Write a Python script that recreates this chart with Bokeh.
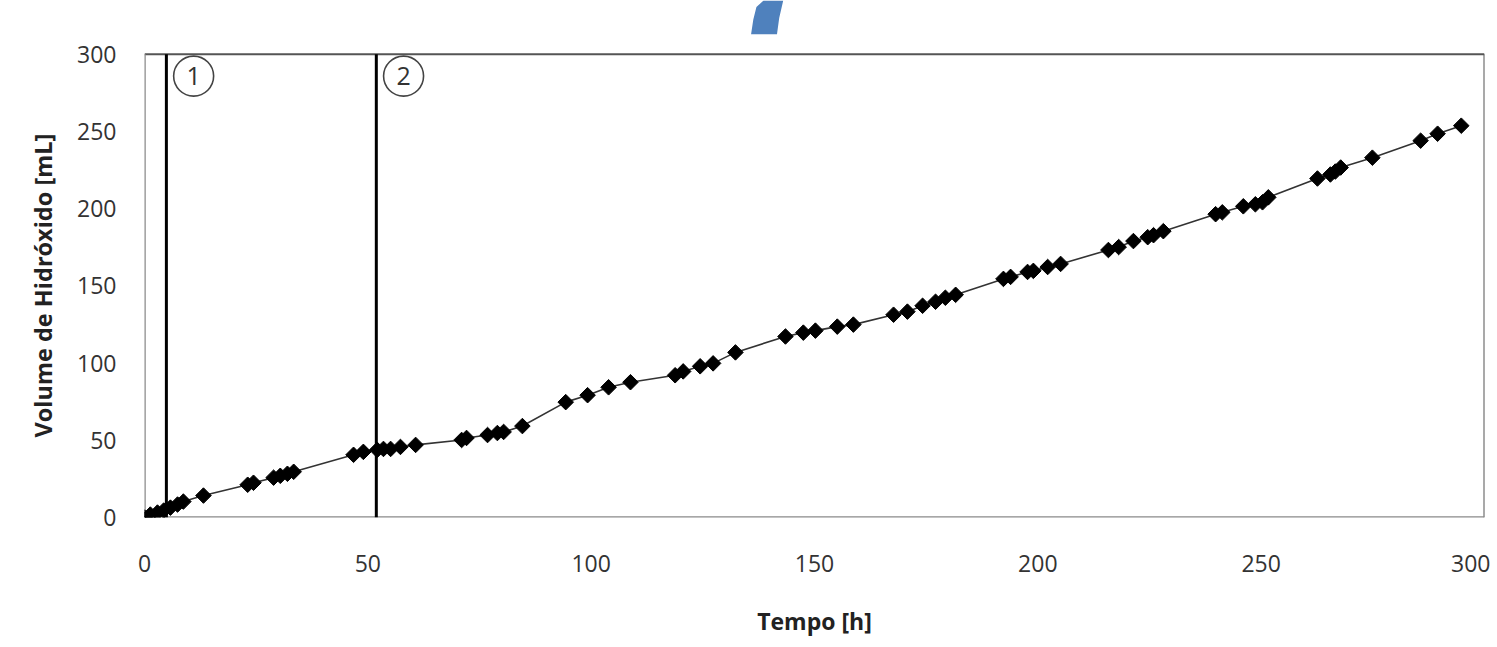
from bokeh.plotting import figure
from bokeh.models import Range1d, FixedTicker, ColumnDataSource, Title
from bokeh.core.properties import value
from bokeh.embed import file_html
from bokeh.resources import INLINE

# ---- data ----
tempo_h = [0, 1.3, 2.9, 4.3, 5.8, 7.4, 8.7, 13.2, 23.1, 24.4, 28.9, 30.4, 32.0, 33.4,
           46.8, 49.0, 52.1, 53.5, 55.1, 57.3, 60.7, 71.0, 72.1, 76.8, 79.0, 80.4, 84.6,
           94.3, 99.2, 103.9, 108.8, 118.8, 120.6, 124.4, 127.3, 132.3, 143.5, 147.5,
           150.2, 155.1, 158.7, 167.7, 170.8, 174.2, 177.1, 179.3, 181.6, 192.3, 193.9,
           197.7, 199.0, 202.2, 205.1, 215.8, 218.1, 221.4, 224.6, 225.9, 228.1, 239.8,
           241.3, 246.0, 248.7, 250.3, 251.6, 262.6, 265.5, 266.6, 267.8, 274.9, 285.7,
           289.5, 294.8]
volume_ml = [0, 1.9, 3.2, 4.5, 6.4, 8.4, 10.3, 14.2, 21.2, 22.5, 25.8, 27.0, 28.3, 29.6,
             40.6, 42.5, 43.8, 44.4, 44.4, 45.7, 47.0, 50.2, 51.5, 53.4, 54.7, 55.4, 59.2,
             74.7, 79.2, 84.3, 87.6, 92.1, 94.6, 97.9, 99.8, 106.9, 117.2, 119.7, 121.0,
             123.6, 124.9, 131.3, 133.3, 137.1, 139.7, 142.3, 144.2, 154.5, 155.8, 159.0,
             159.7, 162.2, 164.2, 173.2, 175.1, 179.0, 181.5, 182.8, 185.4, 196.4, 197.6,
             201.5, 202.8, 204.1, 207.3, 219.5, 222.1, 224.0, 226.6, 233.0, 244.0, 248.5,
             253.7]
event_x = [4.9, 51.9]
event_labels = ["1", "2"]
event_label_y = [285.8, 285.8]
x_ticks = [0, 50, 100, 150, 200, 250, 300]
y_ticks = [0, 50, 100, 150, 200, 250, 300]
x_lim = [0, 300]
y_lim = [0, 300]
# decorative blue stroke above the chart box (in axis units)
deco_x = [135.8, 136.3, 137.0, 138.6, 143.0, 142.1, 141.6]
deco_y = [312.9, 322.5, 330.5, 334.8, 334.8, 323.5, 312.9]

FONT = "Open Sans"
TXT = "#333333"

p = figure(width=1490, height=639, output_backend="svg", toolbar_location=None,
           x_range=Range1d(x_lim[0], x_lim[1]), y_range=Range1d(y_lim[0], 334.76),
           min_border_left=144, min_border_right=6, min_border_top=0, min_border_bottom=119)
p.grid.visible = False
p.outline_line_color = None
p.background_fill_color = "white"
p.border_fill_color = "white"

for ax in (p.xaxis[0], p.yaxis[0]):
    ax.axis_line_color = None
    ax.major_tick_line_color = None
    ax.minor_tick_line_color = None
    ax.major_label_text_font = FONT
    ax.major_label_text_font_size = "23px"
    ax.major_label_text_color = TXT

p.xaxis.ticker = FixedTicker(ticks=x_ticks)
p.yaxis.ticker = FixedTicker(ticks=y_ticks)
p.xaxis.major_label_standoff = 31
p.yaxis.major_label_standoff = 22
p.xaxis.axis_label = "Tempo [h]"
p.xaxis.axis_label_text_font = FONT
p.xaxis.axis_label_text_font_style = "bold"
p.xaxis.axis_label_text_font_size = "23px"
p.xaxis.axis_label_text_color = "#222222"
p.xaxis.axis_label_standoff = 30

ytitle = Title(text="Volume de Hidróxido [mL]", align="left", offset=80,
               text_font=FONT, text_font_style="bold", text_font_size="23.5px",
               text_color="#222222", standoff=32)
p.add_layout(ytitle, "left")

# chart box (0..300 on both axes)
p.multi_line(xs=[[x_lim[0], x_lim[1]], [x_lim[1], x_lim[1]]],
             ys=[[y_lim[1], y_lim[1]], [y_lim[0], y_lim[1]]],
             line_color="#555555", line_width=2)
p.multi_line(xs=[[x_lim[0], x_lim[0]], [x_lim[0], x_lim[1]]],
             ys=[[y_lim[0], y_lim[1]], [y_lim[0], y_lim[0]]],
             line_color="#8a8a8a", line_width=2.5)

# event lines
p.segment(x0=event_x, y0=[y_lim[0]] * len(event_x), x1=event_x, y1=[y_lim[1]] * len(event_x),
          line_color="black", line_width=3)

# data
src = ColumnDataSource(dict(x=tempo_h, y=volume_ml))
p.line("x", "y", source=src, line_color="#333333", line_width=1.6)
p.scatter("x", "y", source=src, marker="square", angle=0.785398, size=11,
          fill_color="black", line_color="black")

# circled labels next to the event lines
label_offset = 6.1
cx = [e + label_offset for e in event_x]
csrc = ColumnDataSource(dict(x=cx, y=event_label_y, t=event_labels))
p.scatter("x", "y", source=csrc, marker="circle", size=40, fill_color="white",
          line_color="#444444", line_width=1.6)
p.text("x", "y", text="t", source=csrc, text_font=value(FONT), text_font_size="25px",
       text_color=TXT, text_align="center", text_baseline="middle")

p.patch(deco_x, deco_y, fill_color="#4f81bd", line_color=None)

open("out.html", "w").write(file_html(p, INLINE))
